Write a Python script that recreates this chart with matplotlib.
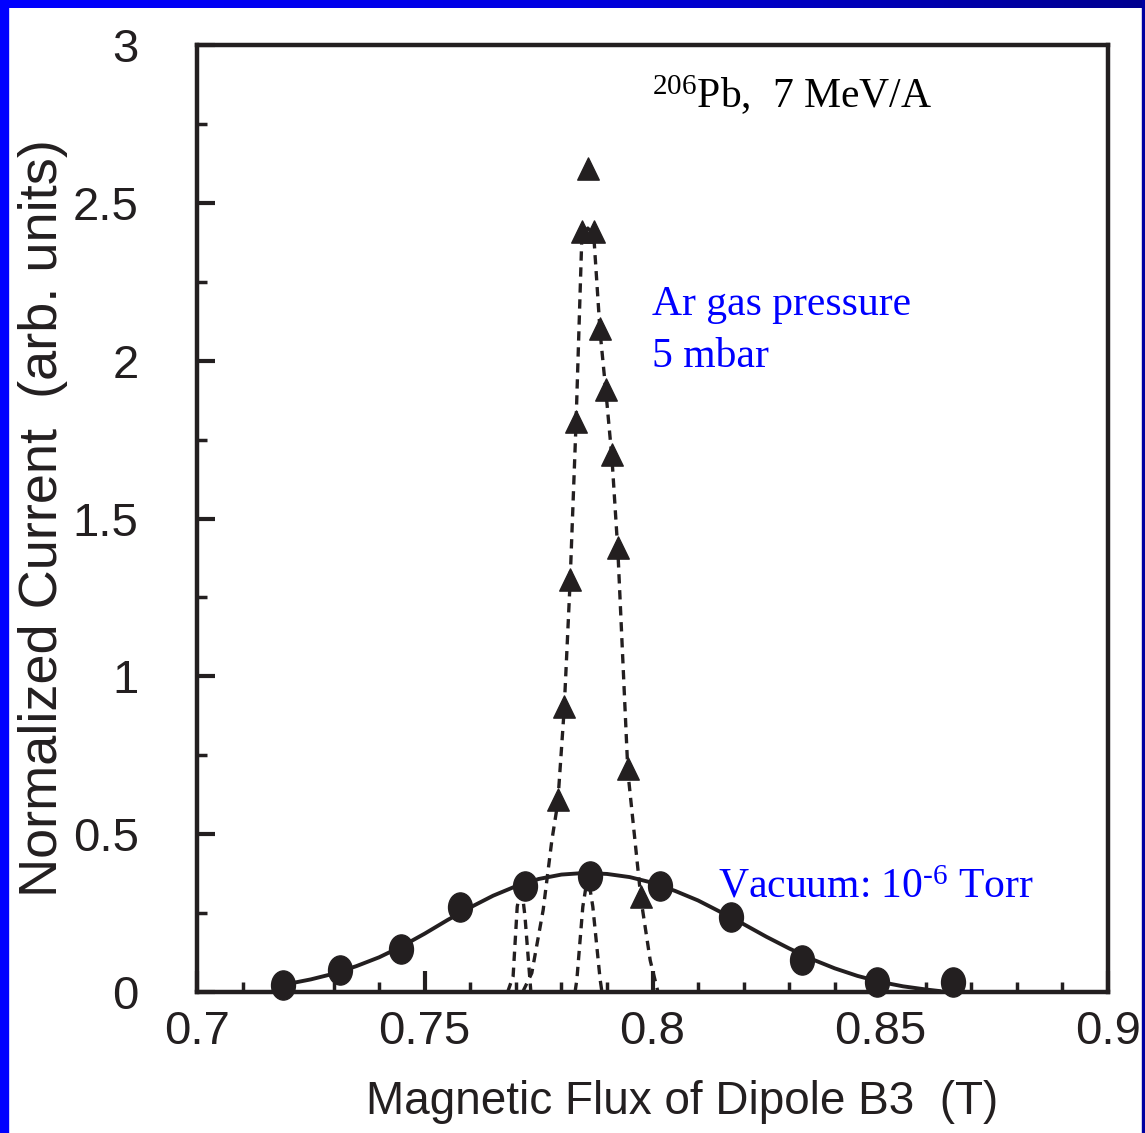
import matplotlib
matplotlib.use("Agg")
import matplotlib.pyplot as plt
import numpy as np
from matplotlib.path import Path
from matplotlib.transforms import Affine2D
from matplotlib.colors import LinearSegmentedColormap

# Vacuum data (circles)
vac_x = [0.7189, 0.7314, 0.7448, 0.7577, 0.7720, 0.7863, 0.8016, 0.8172, 0.8328, 0.8493, 0.8660]
vac_y = [0.022, 0.070, 0.136, 0.269, 0.336, 0.367, 0.336, 0.238, 0.101, 0.032, 0.032]

# Fit line through vacuum points
vfit_x = [0.718, 0.725, 0.730, 0.735, 0.740, 0.745, 0.750, 0.755, 0.760, 0.765, 0.770,
          0.775, 0.780, 0.785, 0.790, 0.795, 0.800, 0.805, 0.810, 0.815, 0.820,
          0.825, 0.830, 0.835, 0.840, 0.845, 0.850, 0.855, 0.860, 0.863]
vfit_y = [0.020, 0.040, 0.058, 0.082, 0.110, 0.145, 0.185, 0.228, 0.268, 0.305, 0.335,
          0.358, 0.372, 0.377, 0.374, 0.364, 0.346, 0.320, 0.290, 0.253, 0.215,
          0.175, 0.138, 0.104, 0.075, 0.051, 0.032, 0.018, 0.008, 0.003]

# Ar gas 5 mbar (triangles)
ar_x = [0.7792, 0.7806, 0.7819, 0.7832, 0.7845, 0.7858, 0.7871, 0.7885, 0.7898,
        0.7911, 0.7924, 0.7946, 0.7975]
ar_y = [0.599, 0.893, 1.296, 1.796, 2.398, 2.597, 2.398, 2.090, 1.897,
        1.691, 1.397, 0.697, 0.291]

# dashed line through triangles
afit_x = [0.7715, 0.7735, 0.7760, 0.7779, 0.7792, 0.7806, 0.7819, 0.7832, 0.7845,
          0.7858, 0.7871, 0.7885, 0.7898, 0.7911, 0.7924, 0.7946, 0.7975, 0.7995, 0.8012]
afit_y = [0.000, 0.060, 0.260, 0.480, 0.599, 0.893, 1.296, 1.796, 2.398,
          2.420, 2.398, 2.090, 1.897, 1.691, 1.397, 0.697, 0.291, 0.100, 0.000]

# narrow dashed peaks under the circles
np1_x = [0.7682, 0.7694, 0.7703, 0.7712, 0.7720, 0.7733]
np1_y = [0.000, 0.050, 0.270, 0.340, 0.240, 0.000]
np2_x = [0.7830, 0.7834, 0.7847, 0.7858, 0.7869, 0.7885, 0.7889]
np2_y = [0.000, 0.040, 0.270, 0.370, 0.270, 0.040, 0.000]

x_ticks = [0.7, 0.75, 0.8, 0.85, 0.9]
x_labels = ['0.7', '0.75', '0.8', '0.85', '0.9']
y_ticks = [0, 0.5, 1, 1.5, 2, 2.5, 3]
y_labels = ['0', '0.5', '1', '1.5', '2', '2.5', '3']

plt.rcParams['mathtext.fontset'] = 'custom'
plt.rcParams['mathtext.rm'] = 'Liberation Serif'
plt.rcParams['mathtext.it'] = 'Liberation Serif:italic'
sans = 'Liberation Sans'
ink = '#231f20'

# slightly tall markers, like the stretched original
ellipse = Path.unit_circle().transformed(Affine2D().scale(1.0, 1.22))
tri = Path([(0, 1.15), (-0.85, -0.6), (0.85, -0.6), (0, 1.15)],
           [Path.MOVETO, Path.LINETO, Path.LINETO, Path.CLOSEPOLY])

fig = plt.figure(figsize=(11.45, 11.33), dpi=100)
fig.patch.set_facecolor('white')

# slide border
fig.patches.append(plt.Rectangle((0, 0), 8 / 1145, 1, transform=fig.transFigure,
                                 color='#0000ff', zorder=0))
fig.patches.append(plt.Rectangle((1142 / 1145, 0), 3 / 1145, 1, transform=fig.transFigure,
                                 color='#0000a0', zorder=0))
gax = fig.add_axes([0, 1 - 8 / 1133, 1, 8 / 1133])
grad = np.linspace(0, 1, 256).reshape(1, -1)
cm = LinearSegmentedColormap.from_list('b', ['#0000ff', '#0000e0', '#000090'])
gax.imshow(grad, aspect='auto', cmap=cm)
gax.axis('off')

ax = fig.add_axes([197 / 1145, 1 - 992 / 1133, 911 / 1145, 947 / 1133])

ax.plot(vfit_x, vfit_y, '-', color=ink, lw=2.8, zorder=2)
for xs, ys in [(afit_x, afit_y), (np1_x, np1_y), (np2_x, np2_y)]:
    ax.plot(xs, ys, '--', color=ink, lw=2.4, dashes=(2.8, 2.0), zorder=2)
ax.plot(ar_x, ar_y, marker=tri, color=ink, ms=21, ls='none', zorder=3)
ax.plot(vac_x, vac_y, marker=ellipse, color=ink, ms=21, ls='none', zorder=4, clip_on=False)

ax.set_xlim(0.7, 0.9)
ax.set_ylim(0, 3)
ax.set_xticks(x_ticks)
ax.set_xticklabels(x_labels)
ax.set_xticks(np.arange(0.7, 0.9001, 0.01), minor=True)
ax.set_yticks(y_ticks)
ax.set_yticklabels(y_labels)
ax.set_yticks(np.arange(0, 3.001, 0.25), minor=True)

for s in ax.spines.values():
    s.set_linewidth(3.2)
    s.set_color(ink)
ax.tick_params(which='major', direction='in', length=13, width=3, color=ink,
               top=False, right=False)
ax.tick_params(which='minor', direction='in', length=7, width=2.5, color=ink,
               top=False, right=False)
ax.tick_params(axis='x', which='major', length=15, pad=13)
ax.tick_params(axis='y', which='major', pad=42)
for lab in ax.get_xticklabels() + ax.get_yticklabels():
    lab.set_family(sans)
    lab.set_fontsize(34)
    lab.set_color(ink)

ax.set_xlabel('Magnetic Flux of Dipole B3  (T)', family=sans, fontsize=33, color=ink)
ax.xaxis.set_label_coords(0.533, -0.093)
ax.set_ylabel('Normalized Current  (arb. units)', family=sans, fontsize=39, color=ink)
ax.yaxis.set_label_coords(-0.142, 0.5)

ax.text(0.7999, 2.80, r'$^{206}$Pb,  7 MeV/A', family='Liberation Serif', fontsize=30,
        color='black', va='baseline')
ax.text(0.7999, 2.145, 'Ar gas pressure', family='Liberation Serif', fontsize=30,
        color='#0000ff', va='baseline')
ax.text(0.7999, 1.98, '5 mbar', family='Liberation Serif', fontsize=30,
        color='#0000ff', va='baseline')
ax.text(0.8144, 0.30, r'Vacuum: 10$^{\text{-}6}$ Torr', family='Liberation Serif',
        fontsize=30, color='#0000ff', va='baseline')

fig.savefig('out.png', dpi=100)
